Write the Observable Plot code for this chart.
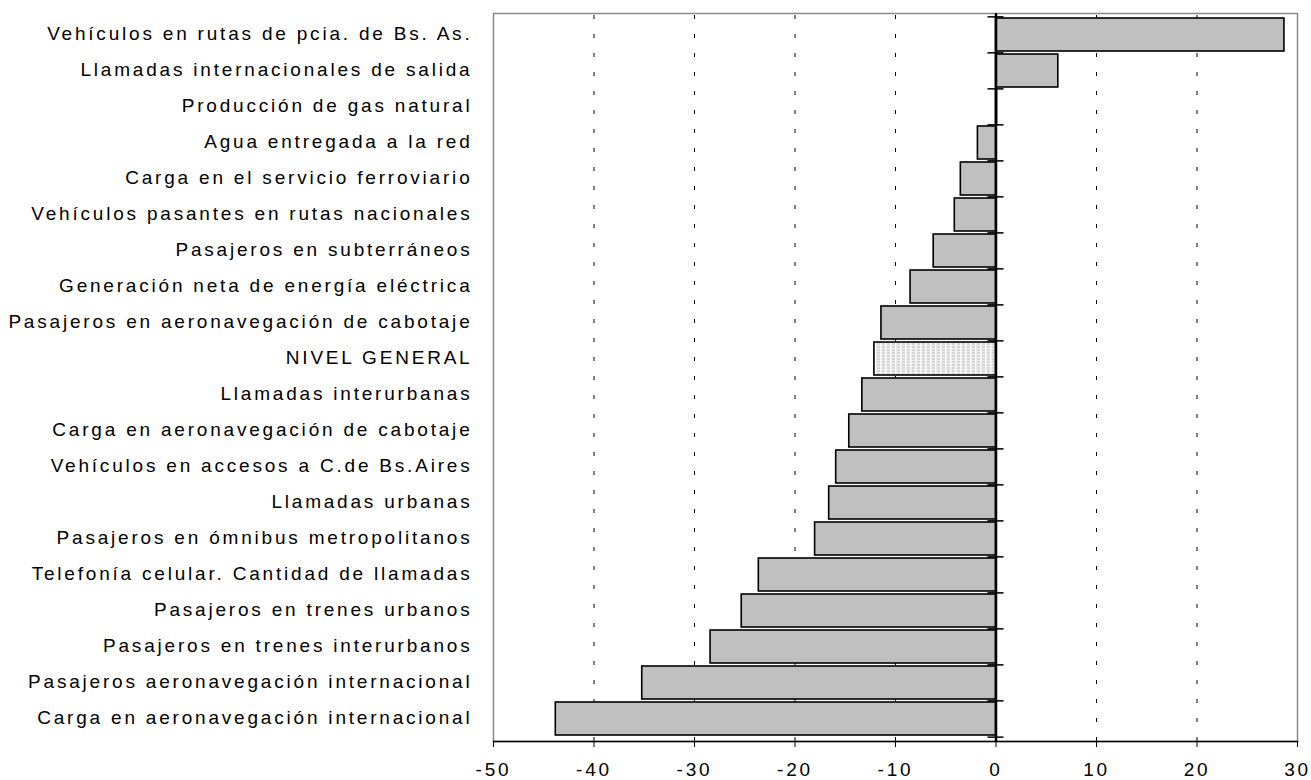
<!DOCTYPE html>
<html>
<head>
<meta charset="utf-8">
<script src="https://cdn.jsdelivr.net/npm/d3@7"></script>
<script src="https://cdn.jsdelivr.net/npm/@observablehq/plot@0.6"></script>
<style>
  html, body { margin: 0; padding: 0; background: white; }
</style>
</head>
<body>
<div id="chart"></div>
<script>
const categories = [
  "Vehículos en rutas de pcia. de Bs. As.",
  "Llamadas internacionales de salida",
  "Producción de gas natural",
  "Agua entregada a la red",
  "Carga en el servicio ferroviario",
  "Vehículos pasantes en rutas nacionales",
  "Pasajeros en subterráneos",
  "Generación neta de energía eléctrica",
  "Pasajeros en aeronavegación de cabotaje",
  "NIVEL GENERAL",
  "Llamadas interurbanas",
  "Carga en aeronavegación de cabotaje",
  "Vehículos en accesos a C.de Bs.Aires",
  "Llamadas urbanas",
  "Pasajeros en ómnibus metropolitanos",
  "Telefonía celular. Cantidad de llamadas",
  "Pasajeros en trenes urbanos",
  "Pasajeros en trenes interurbanos",
  "Pasajeros aeronavegación internacional",
  "Carga en aeronavegación internacional"
];
const values = [28.7, 6.2, 0.1, -1.8, -3.5, -4.1, -6.2, -8.5, -11.4, -12.1,
  -13.3, -14.6, -15.9, -16.6, -18.0, -23.6, -25.3, -28.4, -35.2, -43.8];
const highlight = "NIVEL GENERAL";
const xTicks = [-50, -40, -30, -20, -10, 0, 10, 20, 30];
const gridValues = [-40, -30, -20, -10, 10, 20];

const data = categories.map((name, i) => ({name, value: values[i]}));

const W = 1311, H = 780, mT = 13, mB = 39, mL = 493, mR = 14;
const pad = 0.07;
const step = (H - mT - mB) / (categories.length + pad);

const chart = Plot.plot({
  width: W, height: H,
  marginLeft: mL, marginRight: mR, marginTop: mT, marginBottom: mB,
  style: {background: "white", fontFamily: "'Liberation Sans', Arial, sans-serif", fontSize: "19px", color: "black", overflow: "visible"},
  x: {domain: [-50, 30]},
  y: {domain: categories, padding: pad},
  marks: [
    Plot.frame({stroke: "#888", strokeWidth: 1.5}),
    Plot.ruleX(gridValues, {stroke: "black", strokeWidth: 1, strokeDasharray: "4,15", strokeDashoffset: -2}),
    Plot.barX(data.filter(d => d.name !== highlight), {x: "value", y: "name", fill: "#c0c0c0", stroke: "black", strokeWidth: 1.6}),
    Plot.barX(data.filter(d => d.name === highlight), {x: "value", y: "name", fill: "url(#gridpat)", stroke: "black", strokeWidth: 1.6}),
    Plot.ruleX([0], {stroke: "black", strokeWidth: 2.5}),
    Plot.ruleY(categories, {y: d => d, x1: -0.8, x2: 0.8, dy: -step / 2, stroke: "black", strokeWidth: 1.5}),
    Plot.ruleY(categories.slice(-1), {y: d => d, x1: -0.8, x2: 0.8, dy: step / 2, stroke: "black", strokeWidth: 1.5}),
    Plot.frame({anchor: "bottom", stroke: "black", strokeWidth: 1.5}),
    Plot.axisY({tickSize: 0, tickPadding: 21, fontSize: 19, label: null, dy: -1}),
    Plot.axisX({ticks: xTicks, tickSize: 6, tickPadding: 15, fontSize: 19, label: null, tickFormat: d => String(d).replace("−", "-")})
  ]
});

const svg = d3.select(chart);
const defs = svg.insert("defs", ":first-child");
const pat = defs.append("pattern").attr("id", "gridpat").attr("patternUnits", "userSpaceOnUse")
  .attr("width", 5).attr("height", 3);
pat.append("rect").attr("width", 5).attr("height", 3).attr("fill", "#d6d6d6");
pat.append("rect").attr("width", 5).attr("height", 1).attr("fill", "#ececec");
pat.append("rect").attr("width", 1.5).attr("height", 3).attr("fill", "#ffffff");

svg.selectAll("text").style("letter-spacing", "2.8px");

document.getElementById("chart").appendChild(chart);
</script>
</body>
</html>
